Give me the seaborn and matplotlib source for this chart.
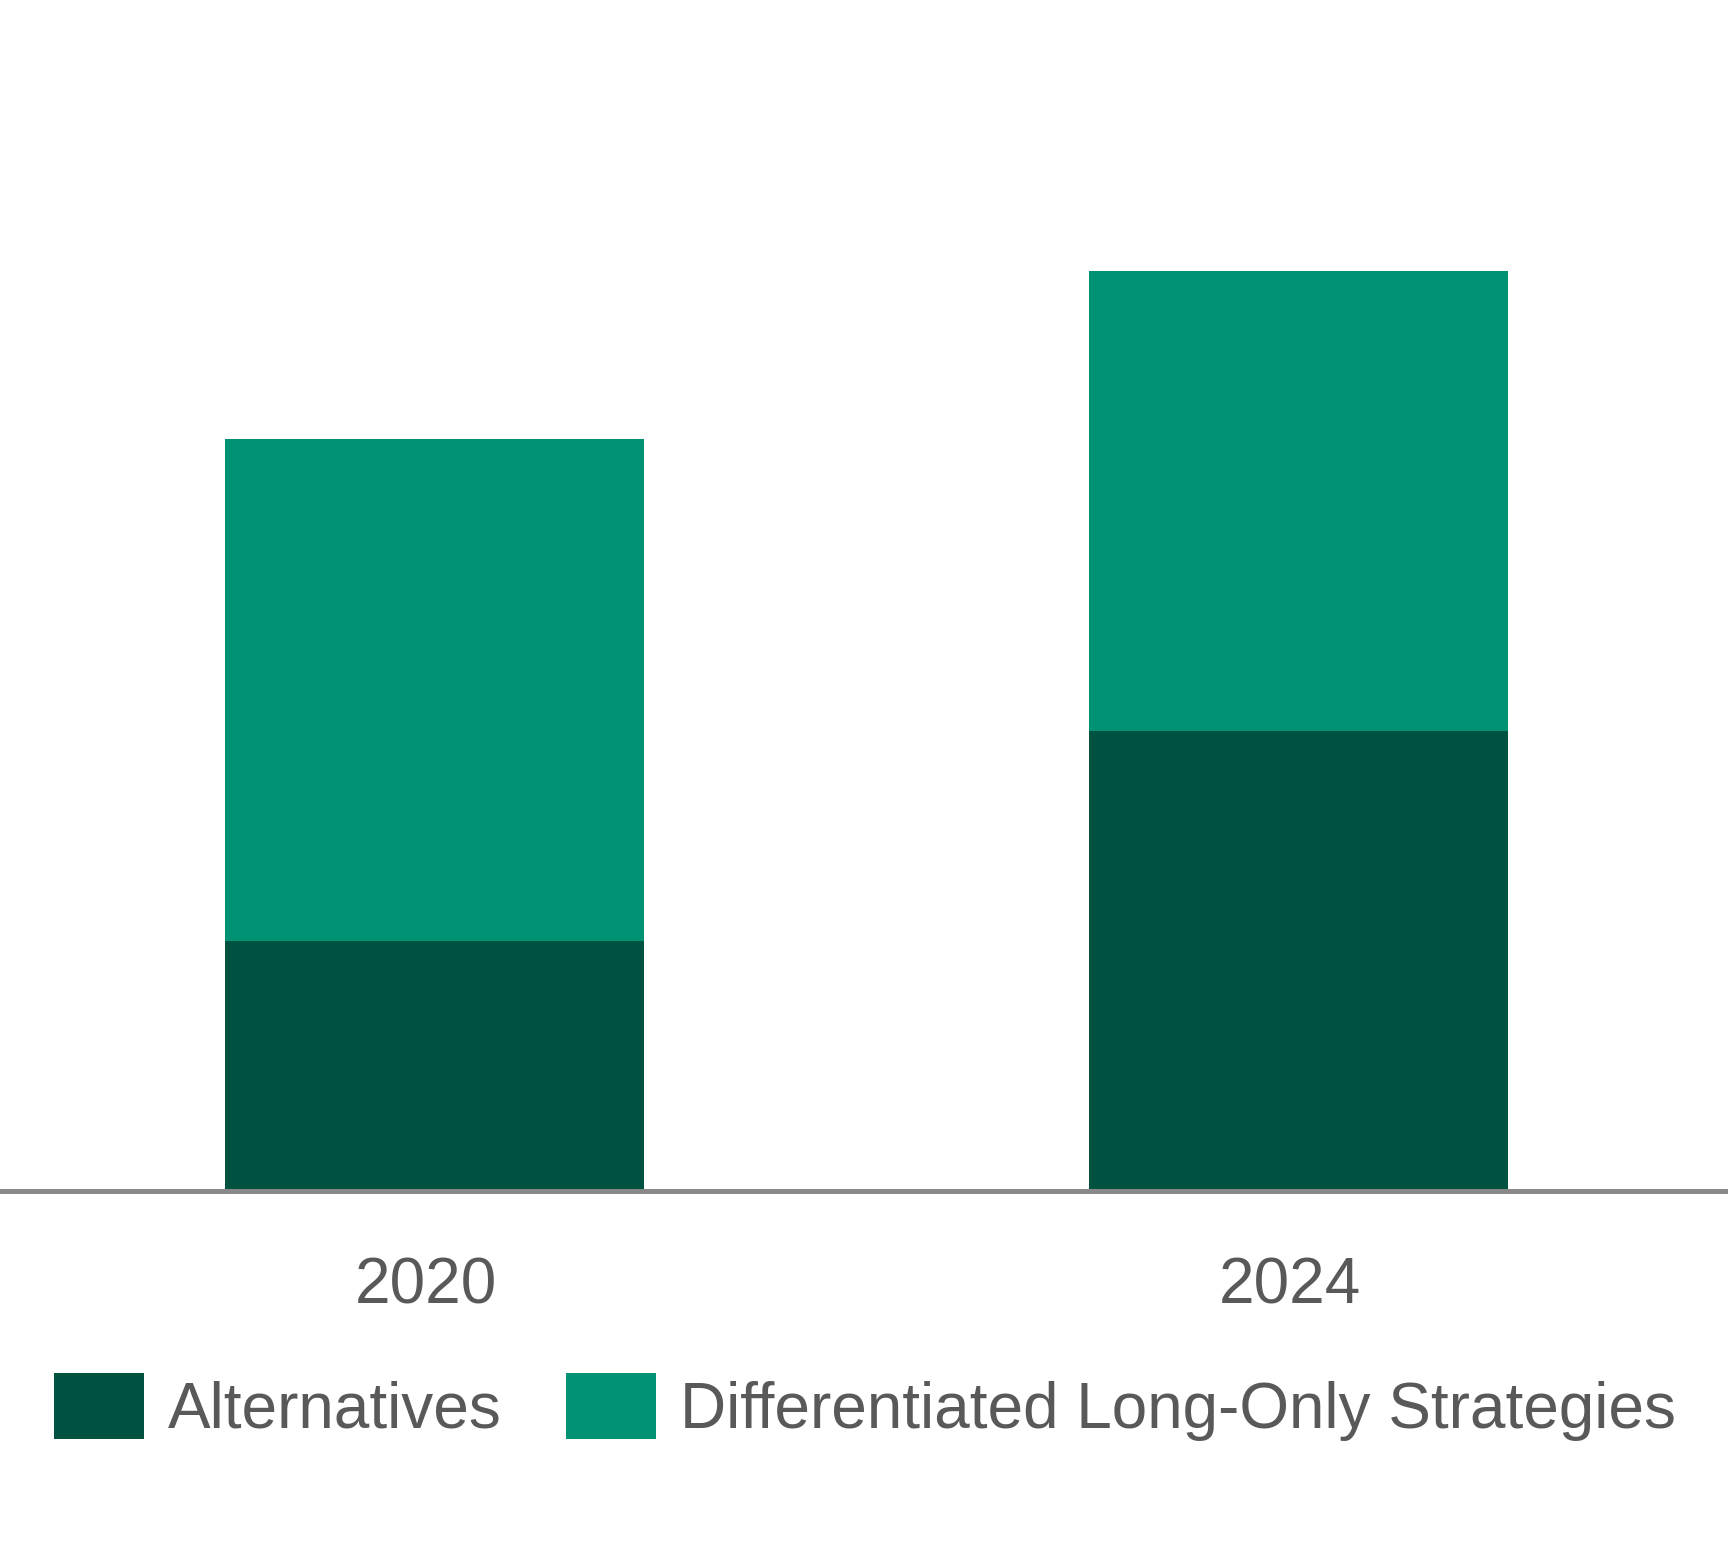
import pandas as pd
import matplotlib.pyplot as plt
import matplotlib.transforms as mtransforms
import seaborn as sns

# Dados
years = ['2020', '2024']
alternatives = [5.0, 9.2]
long_only = [10.05, 9.2]

dark_green = '#005240'
teal = '#009273'
text_grey = '#595959'

df = pd.DataFrame({'year': years, 'alt': alternatives, 'dlo': long_only})
df['total'] = df['alt'] + df['dlo']

sns.set_style('white')
plt.rcParams['font.family'] = ['Liberation Sans', 'DejaVu Sans']

fig = plt.figure(figsize=(17.28, 15.54), dpi=100)
ax = fig.add_axes([0, 1 - 1191 / 1554, 1, 1191 / 1554])

# Barras empilhadas: total primeiro, alternativas por cima
sns.barplot(data=df, x='year', y='total', color=teal, width=0.485,
            saturation=1, ax=ax, linewidth=0, label='Differentiated Long-Only Strategies')
sns.barplot(data=df, x='year', y='alt', color=dark_green, width=0.485,
            saturation=1, ax=ax, linewidth=0, label='Alternatives')

ax.set_xlim(-0.503, 1.497)
ax.set_ylim(0, 23.82)
ax.set_xlabel('')
ax.set_ylabel('')
ax.set_yticks([])
for side in ['top', 'left', 'right']:
    ax.spines[side].set_visible(False)
ax.spines['bottom'].set_color('#898989')
ax.spines['bottom'].set_linewidth(3.6)
ax.tick_params(axis='x', length=0, pad=47, labelsize=46, labelcolor=text_grey)

# rótulos dos anos um pouco à esquerda, como no original
offset = mtransforms.ScaledTranslation(-9 / 100, 0, fig.dpi_scale_trans)
for lbl in ax.get_xticklabels():
    lbl.set_transform(lbl.get_transform() + offset)

# Legenda
handles, labels = ax.get_legend_handles_labels()
if ax.get_legend() is not None:
    ax.get_legend().remove()
order = [labels.index('Alternatives'), labels.index('Differentiated Long-Only Strategies')]
leg = fig.legend([handles[i] for i in order], [labels[i] for i in order],
                 loc='center left', bbox_to_anchor=(54 / 1728, 1 - 1407 / 1554),
                 ncol=2, frameon=False, fontsize=46, borderpad=0, borderaxespad=0,
                 handlelength=1.41, handleheight=1.21, handletextpad=0.38,
                 columnspacing=1.0)
for t in leg.get_texts():
    t.set_color(text_grey)

plt.savefig('out.png', dpi=100)
